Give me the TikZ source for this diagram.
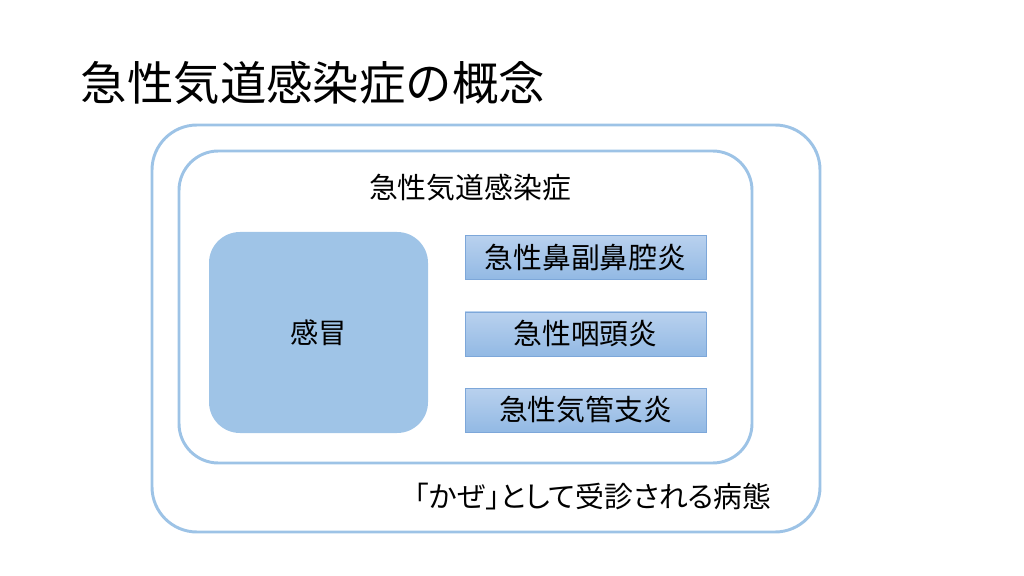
\documentclass[tikz,border=0pt]{standalone}
\usepackage{fontspec}
\setmainfont{Noto Sans CJK JP}
\newfontfamily\paltfont[RawFeature=+palt]{Noto Sans CJK JP}
\usetikzlibrary{positioning}
\definecolor{lineblue}{RGB}{157,195,230}
\definecolor{fillblue}{RGB}{159,196,231}
\definecolor{topblue}{RGB}{185,209,238}
\definecolor{botblue}{RGB}{146,185,228}
\definecolor{edgeblue}{RGB}{125,167,217}

\begin{document}
\begin{tikzpicture}
		[x=0.025cm, y=-0.025cm,
		frame/.style = {draw=lineblue, line width=2.1pt, rectangle, inner sep=0pt},
		cold/.style = {fill=fillblue, rectangle, rounded corners=22pt, minimum width=219*0.025cm, minimum height=201*0.025cm, font=\fontsize{20}{24}\selectfont},
		dis/.style = {draw=edgeblue, line width=0.7pt, top color=topblue, bottom color=botblue, rectangle, minimum width=241*0.025cm, minimum height=44*0.025cm, font=\fontsize{20.5}{24}\selectfont}]
		
		\useasboundingbox (0,0) rectangle (1024,576);
		
		\node[anchor=west, font=\fontsize{33}{38}\selectfont] (title) at (76,83) {急性気道感染症の概念};
		
		\node[frame, rounded corners=32pt, minimum width=668*0.025cm, minimum height=407*0.025cm] (outer) at (486,328.5) {};
		\node[frame, rounded corners=28pt, minimum width=573*0.025cm, minimum height=312*0.025cm] (inner) at (465.5,307) {};
		
		\node[font=\fontsize{20.5}{24}\selectfont] (ardi) at (470,188) {急性気道感染症};
		\node[cold] (common) at (318.5,332.5) {感冒};
		\foreach \y/\name/\txt in {
			257.5/rhino/{急性鼻副鼻腔炎},
			334/phar/{急性咽頭炎},
			410/bron/{急性気管支炎}}
		{
			\node[dis] (\name) at (585.5,\y) {\txt};
		}
		
		\node[font=\paltfont\fontsize{20.5}{24}\selectfont] (kaze) at (593,497) {「かぜ」として受診される病態};
		
	\end{tikzpicture}
\end{document}
